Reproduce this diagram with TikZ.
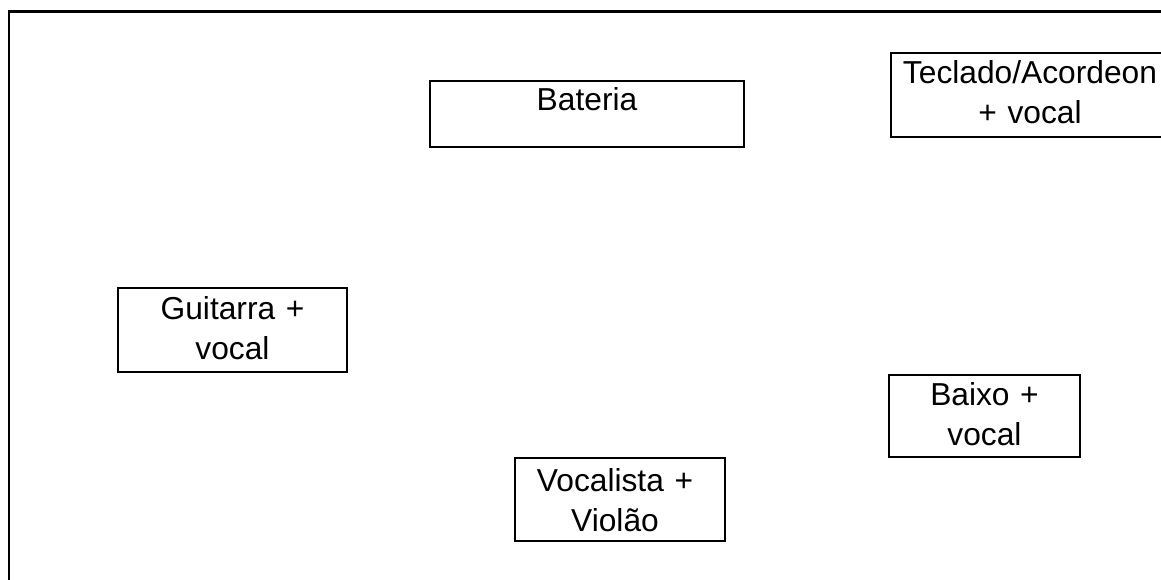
\documentclass[tikz,border=0pt]{standalone}
\usepackage{fontspec}
\setmainfont{Liberation Sans}
\begin{document}
\begin{tikzpicture}[x=0.75pt,y=-0.75pt,
  stagebox/.style={draw=black,line width=1.5pt,inner sep=0pt,rectangle},
  lbl/.style={inner sep=0pt,anchor=base,text width=300pt,align=center,
    font=\fontsize{23.8pt}{30pt}\selectfont}]
\useasboundingbox (0,0) rectangle (1161,580);
\begin{scope}
\clip (0,0) rectangle (1161,580);
\draw[line width=1.6pt] (9,600) -- (9,11.5) -- (1180,11.5);
% boxes
\node[stagebox,minimum width=314*0.75pt,minimum height=66*0.75pt] (bat) at (587,114) {};
\node[stagebox,minimum width=278*0.75pt,minimum height=84*0.75pt] (tec) at (1030,95) {};
\node[stagebox,minimum width=229*0.75pt,minimum height=84*0.75pt] (gui) at (232.5,330) {};
\node[stagebox,minimum width=191*0.75pt,minimum height=82*0.75pt] (bai) at (984.5,416) {};
\node[stagebox,minimum width=210*0.75pt,minimum height=83*0.75pt] (voc) at (620,499.5) {};
% labels
\node[lbl] (batt) at (587,110.7) {Bateria};
\node[lbl] (tect) at (1030,84) {Teclado/Acordeon\\+ vocal};
\node[lbl] (guit) at (232.5,319.3) {Guitarra +\\vocal};
\node[lbl] (bait) at (984.5,406) {Baixo +\\vocal};
\node[lbl] (voct) at (615,491.7) {Vocalista +\\Violão};
\end{scope}
\end{tikzpicture}
\end{document}
